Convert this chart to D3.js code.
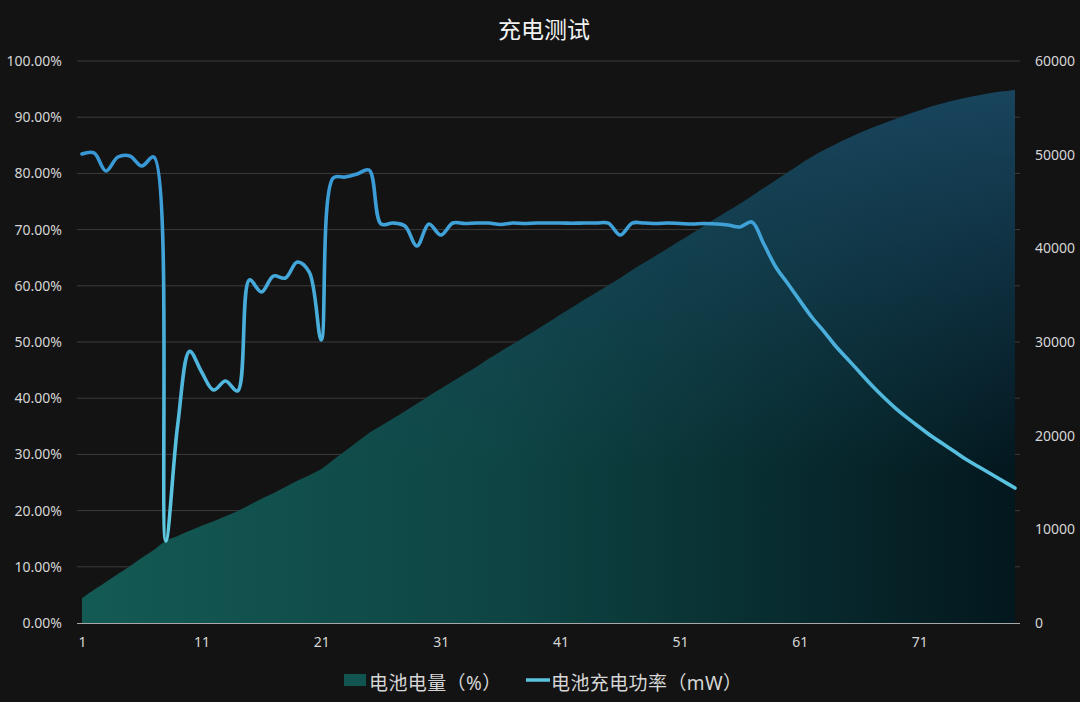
<!DOCTYPE html>
<html>
<head>
<meta charset="utf-8">
<script src="https://cdn.jsdelivr.net/npm/d3@7/dist/d3.min.js"></script>
<style>
  html, body { margin: 0; padding: 0; background: #131313; }
  svg { display: block; }
  text { font-family: "Noto Sans", "Noto Sans CJK SC", sans-serif; }
</style>
</head>
<body>
<svg id="chart" width="1080" height="702"></svg>
<script>
// ---- data ----
const title = "充电测试";
const seriesNames = ["电池电量（%）", "电池充电功率（mW）"];
const categories = d3.range(1, 80); // 1..79
const xTickLabels = [1, 11, 21, 31, 41, 51, 61, 71];
const leftTicks = [0, 0.1, 0.2, 0.3, 0.4, 0.5, 0.6, 0.7, 0.8, 0.9, 1.0];
const rightTicks = [0, 10000, 20000, 30000, 40000, 50000, 60000];

// battery level (%)
const battery = [
  4.4, 5.9, 7.3, 8.7, 10.1, 11.6, 13.0, 14.6, 15.5, 16.4,
  17.3, 18.1, 19.0, 19.9, 21.0, 22.1, 23.1, 24.2, 25.3, 26.3,
  27.4, 29.0, 30.6, 32.2, 33.8, 35.1, 36.4, 37.7, 39.0, 40.4,
  41.7, 43.0, 44.3, 45.6, 47.0, 48.3, 49.6, 50.9, 52.2, 53.5,
  54.9, 56.2, 57.5, 58.8, 60.1, 61.4, 62.8, 64.1, 65.4, 66.7,
  68.0, 69.3, 70.7, 72.0, 73.3, 74.6, 76.0, 77.4, 78.8, 80.2,
  81.6, 82.9, 84.1, 85.2, 86.2, 87.2, 88.1, 88.9, 89.7, 90.5,
  91.2, 91.9, 92.5, 93.0, 93.5, 93.9, 94.3, 94.6, 94.9
];

// charging power (mW)
const power = [
  50070, 50180, 48260, 49750, 49860, 48790, 49750, 8750, 21140, 29000,
  26800, 24870, 25840, 24770, 36620, 35340, 37040, 36830, 38540, 37470,
  30210, 47500, 47610, 47930, 48360, 42600, 42700, 42380, 40250, 42600,
  41420, 42700, 42650, 42700, 42700, 42550, 42700, 42650, 42700, 42700,
  42700, 42680, 42700, 42700, 42700, 41420, 42700, 42700, 42650, 42700,
  42650, 42600, 42650, 42600, 42500, 42280, 42810, 40460, 38010, 36250,
  34440, 32670, 31170, 29570, 28180, 26800, 25410, 24130, 22950, 21890,
  20920, 19960, 19110, 18260, 17400, 16650, 15910, 15160, 14410
];

// ---- chart ----
const svg = d3.select("#chart");
const W = 1080, H = 702;
const plotLeft = 77, plotRight = 1020, plotTop = 61, plotBottom = 623;

const x = d3.scalePoint().domain(categories).range([82, 1015]);
const yL = d3.scaleLinear().domain([0, 1]).range([plotBottom, plotTop]);
const yR = d3.scaleLinear().domain([0, 60000]).range([plotBottom, plotTop]);

const defs = svg.append("defs");
const gH = defs.append("linearGradient").attr("id", "areaH")
  .attr("gradientUnits", "userSpaceOnUse")
  .attr("x1", 82).attr("y1", 0).attr("x2", 1015).attr("y2", 0);
gH.append("stop").attr("offset", 0).attr("stop-color", "#145a54");
gH.append("stop").attr("offset", 0.45).attr("stop-color", "#0e4544");
gH.append("stop").attr("offset", 1).attr("stop-color", "#03171e");

const gV = defs.append("linearGradient").attr("id", "areaV")
  .attr("gradientUnits", "userSpaceOnUse")
  .attr("x1", 0).attr("y1", 90).attr("x2", 0).attr("y2", 470);
gV.append("stop").attr("offset", 0).attr("stop-color", "#1a4862").attr("stop-opacity", 0.92);
gV.append("stop").attr("offset", 1).attr("stop-color", "#1a4862").attr("stop-opacity", 0);

const gL = defs.append("linearGradient").attr("id", "lineG")
  .attr("gradientUnits", "userSpaceOnUse")
  .attr("x1", 0).attr("y1", 150).attr("x2", 0).attr("y2", 545);
gL.append("stop").attr("offset", 0).attr("stop-color", "#3797d5");
gL.append("stop").attr("offset", 1).attr("stop-color", "#60cbe2");

// background
svg.append("rect").attr("width", W).attr("height", H).attr("fill", "#131313");

// gridlines
svg.append("g").selectAll("line").data(leftTicks.slice(1)).join("line")
  .attr("x1", plotLeft).attr("x2", plotRight)
  .attr("y1", d => yL(d)).attr("y2", d => yL(d))
  .attr("stroke", "#3c3c3c").attr("stroke-width", 1);

// area
const area = d3.area()
  .x((d, i) => x(categories[i]))
  .y0(yL(0))
  .y1(d => yL(d / 100))
  .curve(d3.curveCatmullRom.alpha(0.5));
svg.append("path").datum(battery).attr("d", area).attr("fill", "url(#areaH)");
svg.append("path").datum(battery).attr("d", area).attr("fill", "url(#areaV)");

// axis baseline
svg.append("line").attr("x1", plotLeft).attr("x2", plotRight)
  .attr("y1", plotBottom + 0.5).attr("y2", plotBottom + 0.5)
  .attr("stroke", "#a8a8a8").attr("stroke-width", 1.2);

// line
const line = d3.line()
  .x((d, i) => x(categories[i]))
  .y(d => yR(d))
  .curve(d3.curveCatmullRom.alpha(0.5));
svg.append("path").datum(power).attr("d", line)
  .attr("fill", "none").attr("stroke", "url(#lineG)")
  .attr("stroke-width", 3.6).attr("stroke-linejoin", "round").attr("stroke-linecap", "round");

// axes
const axL = d3.axisLeft(yL).tickValues(leftTicks).tickFormat(d3.format(".2%")).tickSize(0).tickPadding(0);
const gAxL = svg.append("g").attr("transform", "translate(62,0)").call(axL);
const axR = d3.axisRight(yR).tickValues(rightTicks).tickFormat(d3.format("d")).tickSize(0).tickPadding(0);
const gAxR = svg.append("g").attr("transform", "translate(1035,0)").call(axR);
const axB = d3.axisBottom(x).tickValues(xTickLabels).tickSize(0).tickPadding(0);
const gAxB = svg.append("g").attr("transform", "translate(0,637)").call(axB);
[gAxL, gAxR, gAxB].forEach(g => {
  g.select(".domain").remove();
  g.selectAll("text").attr("fill", "#d6d6d6").style("font-size", "14px")
    .style("font-family", "'Noto Sans', sans-serif");
});

// title
svg.append("text").attr("x", 544).attr("y", 28)
  .attr("text-anchor", "middle").attr("dominant-baseline", "central")
  .attr("fill", "#f2f2f2").style("font-size", "23px")
  .style("font-family", "'Noto Sans CJK SC', sans-serif").text(title);

// legend
const leg = svg.append("g").style("font-family", "'Noto Sans CJK SC', sans-serif");
leg.append("rect").attr("x", 344).attr("y", 674).attr("width", 22).attr("height", 12)
  .attr("fill", "url(#areaH)");
leg.append("rect").attr("x", 344).attr("y", 674).attr("width", 22).attr("height", 12)
  .attr("fill", "#145a54").attr("opacity", 0.6);
leg.append("text").attr("x", 369).attr("y", 683).attr("dominant-baseline", "central")
  .attr("fill", "#d6d6d6").style("font-size", "19px").style("letter-spacing", "0.4px")
  .text(seriesNames[0]);
leg.append("line").attr("x1", 526).attr("x2", 550).attr("y1", 680).attr("y2", 680)
  .attr("stroke", "#5cc3de").attr("stroke-width", 3.5);
leg.append("text").attr("x", 551).attr("y", 683).attr("dominant-baseline", "central")
  .attr("fill", "#d6d6d6").style("font-size", "19px").style("letter-spacing", "0.4px")
  .text(seriesNames[1]);
</script>
</body>
</html>
